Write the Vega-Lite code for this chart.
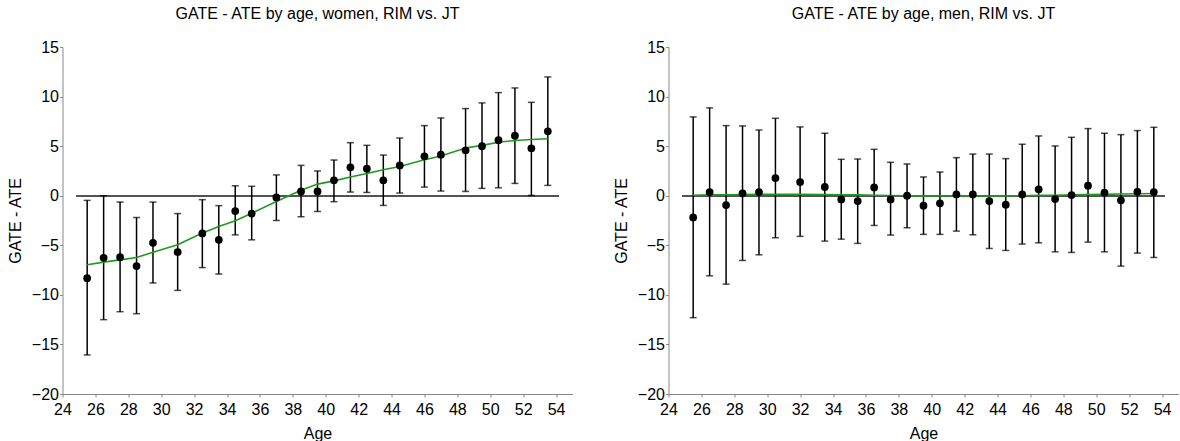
{
  "$schema": "https://vega.github.io/schema/vega-lite/v6.json",
  "padding": {"left": 6.5, "top": 6, "right": 0, "bottom": 0},
  "spacing": 40,
  "datasets": {
    "women": [
      {"age": 25.5, "gate": -8.32, "lo": -16.06, "hi": -0.47, "fit": -6.97},
      {"age": 26.5, "gate": -6.26, "lo": -12.5, "hi": 0.0, "fit": -6.7},
      {"age": 27.5, "gate": -6.2, "lo": -11.7, "hi": -0.64, "fit": -6.47},
      {"age": 28.5, "gate": -7.1, "lo": -11.9, "hi": -2.2, "fit": -6.23},
      {"age": 29.5, "gate": -4.75, "lo": -8.8, "hi": -0.64, "fit": -5.7},
      {"age": 31.0, "gate": -5.7, "lo": -9.55, "hi": -1.8, "fit": -4.95},
      {"age": 32.5, "gate": -3.8, "lo": -7.25, "hi": -0.4, "fit": -3.77},
      {"age": 33.5, "gate": -4.45, "lo": -7.9, "hi": -1.0, "fit": -3.1},
      {"age": 34.5, "gate": -1.55, "lo": -3.95, "hi": 1.0, "fit": -2.53},
      {"age": 35.5, "gate": -1.8, "lo": -4.45, "hi": 0.95, "fit": -1.76},
      {"age": 37.0, "gate": -0.17, "lo": -2.5, "hi": 2.1, "fit": -0.58},
      {"age": 38.5, "gate": 0.43, "lo": -2.12, "hi": 3.06, "fit": 0.55},
      {"age": 39.5, "gate": 0.43, "lo": -1.59, "hi": 2.5, "fit": 1.17},
      {"age": 40.5, "gate": 1.55, "lo": -0.6, "hi": 3.6, "fit": 1.5},
      {"age": 41.5, "gate": 2.86, "lo": 0.37, "hi": 5.35, "fit": 1.88},
      {"age": 42.5, "gate": 2.72, "lo": 0.33, "hi": 5.08, "fit": 2.25},
      {"age": 43.5, "gate": 1.55, "lo": -0.98, "hi": 4.1, "fit": 2.62},
      {"age": 44.5, "gate": 3.06, "lo": 0.27, "hi": 5.82, "fit": 2.95},
      {"age": 46.0, "gate": 3.97, "lo": 0.87, "hi": 7.07, "fit": 3.63},
      {"age": 47.0, "gate": 4.14, "lo": 0.47, "hi": 7.84, "fit": 4.0},
      {"age": 48.5, "gate": 4.58, "lo": 0.43, "hi": 8.79, "fit": 4.81},
      {"age": 49.5, "gate": 5.0, "lo": 0.74, "hi": 9.36, "fit": 5.08},
      {"age": 50.5, "gate": 5.6, "lo": 0.8, "hi": 10.4, "fit": 5.4},
      {"age": 51.5, "gate": 6.06, "lo": 1.24, "hi": 10.87, "fit": 5.57},
      {"age": 52.5, "gate": 4.78, "lo": 0.03, "hi": 9.42, "fit": 5.67},
      {"age": 53.5, "gate": 6.5, "lo": 1.04, "hi": 11.98, "fit": 5.75}
    ],
    "men": [
      {"age": 25.5, "gate": -2.19, "lo": -12.3, "hi": 7.95, "fit": 0.05},
      {"age": 26.5, "gate": 0.37, "lo": -8.08, "hi": 8.86, "fit": 0.08},
      {"age": 27.5, "gate": -0.94, "lo": -8.92, "hi": 7.07, "fit": 0.1},
      {"age": 28.5, "gate": 0.24, "lo": -6.53, "hi": 7.04, "fit": 0.12},
      {"age": 29.5, "gate": 0.37, "lo": -5.96, "hi": 6.63, "fit": 0.14},
      {"age": 30.5, "gate": 1.78, "lo": -4.24, "hi": 7.81, "fit": 0.15},
      {"age": 32.0, "gate": 1.38, "lo": -4.1, "hi": 6.94, "fit": 0.15},
      {"age": 33.5, "gate": 0.88, "lo": -4.58, "hi": 6.3, "fit": 0.13},
      {"age": 34.5, "gate": -0.37, "lo": -4.38, "hi": 3.67, "fit": 0.1},
      {"age": 35.5, "gate": -0.54, "lo": -4.81, "hi": 3.7, "fit": 0.08},
      {"age": 36.5, "gate": 0.84, "lo": -3.0, "hi": 4.68, "fit": 0.05},
      {"age": 37.5, "gate": -0.37, "lo": -3.97, "hi": 3.37, "fit": 0.02},
      {"age": 38.5, "gate": 0.0, "lo": -3.23, "hi": 3.2, "fit": 0.0},
      {"age": 39.5, "gate": -1.01, "lo": -3.9, "hi": 1.89, "fit": -0.02},
      {"age": 40.5, "gate": -0.77, "lo": -3.9, "hi": 2.39, "fit": -0.03},
      {"age": 41.5, "gate": 0.13, "lo": -3.57, "hi": 3.84, "fit": -0.03},
      {"age": 42.5, "gate": 0.13, "lo": -3.94, "hi": 4.2, "fit": -0.03},
      {"age": 43.5, "gate": -0.54, "lo": -5.32, "hi": 4.2, "fit": -0.03},
      {"age": 44.5, "gate": -0.91, "lo": -5.52, "hi": 3.74, "fit": -0.02},
      {"age": 45.5, "gate": 0.13, "lo": -4.88, "hi": 5.19, "fit": 0.0},
      {"age": 46.5, "gate": 0.64, "lo": -4.75, "hi": 6.03, "fit": 0.03},
      {"age": 47.5, "gate": -0.34, "lo": -5.66, "hi": 5.02, "fit": 0.05},
      {"age": 48.5, "gate": 0.07, "lo": -5.72, "hi": 5.89, "fit": 0.08},
      {"age": 49.5, "gate": 1.01, "lo": -4.68, "hi": 6.77, "fit": 0.11},
      {"age": 50.5, "gate": 0.3, "lo": -5.66, "hi": 6.3, "fit": 0.14},
      {"age": 51.5, "gate": -0.47, "lo": -7.1, "hi": 6.16, "fit": 0.17},
      {"age": 52.5, "gate": 0.4, "lo": -5.79, "hi": 6.57, "fit": 0.2},
      {"age": 53.5, "gate": 0.37, "lo": -6.23, "hi": 6.9, "fit": 0.23}
    ]
  },
  "hconcat": [
    {
      "width": 510,
      "height": 347,
      "title": "GATE - ATE by age, women, RIM vs. JT",
      "data": {"name": "women"},
      "encoding": {
        "x": {
          "field": "age",
          "type": "quantitative",
          "title": "Age",
          "scale": {"domain": [24, 55], "nice": false, "zero": false},
          "axis": {"values": [24, 26, 28, 30, 32, 34, 36, 38, 40, 42, 44, 46, 48, 50, 52, 54]}
        }
      },
      "layer": [
        {
          "mark": {"type": "rule", "color": "#555555", "strokeWidth": 0.9},
          "encoding": {
            "x": {"datum": 24.85, "type": "quantitative"},
            "x2": {"datum": 54.15},
            "y": {"datum": 0, "type": "quantitative"}
          }
        },
        {
          "mark": {"type": "errorbar", "ticks": {"size": 7, "color": "black", "thickness": 1.5}, "color": "black", "thickness": 1.5},
          "encoding": {
            "y": {
              "field": "lo",
              "type": "quantitative",
              "title": "GATE - ATE",
              "scale": {"domain": [-20, 15], "nice": false},
              "axis": {"values": [-20, -15, -10, -5, 0, 5, 10, 15]}
            },
            "y2": {"field": "hi"}
          }
        },
        {
          "mark": {"type": "line", "color": "#1e9a1e", "strokeWidth": 1.6},
          "encoding": {"y": {"field": "fit", "type": "quantitative"}}
        },
        {
          "mark": {"type": "circle", "color": "black", "opacity": 1, "size": 60},
          "encoding": {"y": {"field": "gate", "type": "quantitative"}}
        }
      ]
    },
    {
      "width": 510,
      "height": 347,
      "title": "GATE - ATE by age, men, RIM vs. JT",
      "data": {"name": "men"},
      "encoding": {
        "x": {
          "field": "age",
          "type": "quantitative",
          "title": "Age",
          "scale": {"domain": [24, 55], "nice": false, "zero": false},
          "axis": {"values": [24, 26, 28, 30, 32, 34, 36, 38, 40, 42, 44, 46, 48, 50, 52, 54]}
        }
      },
      "layer": [
        {
          "mark": {"type": "rule", "color": "#555555", "strokeWidth": 0.9},
          "encoding": {
            "x": {"datum": 24.85, "type": "quantitative"},
            "x2": {"datum": 54.15},
            "y": {"datum": 0, "type": "quantitative"}
          }
        },
        {
          "mark": {"type": "errorbar", "ticks": {"size": 7, "color": "black", "thickness": 1.5}, "color": "black", "thickness": 1.5},
          "encoding": {
            "y": {
              "field": "lo",
              "type": "quantitative",
              "title": "GATE - ATE",
              "scale": {"domain": [-20, 15], "nice": false},
              "axis": {"values": [-20, -15, -10, -5, 0, 5, 10, 15]}
            },
            "y2": {"field": "hi"}
          }
        },
        {
          "mark": {"type": "line", "color": "#1e9a1e", "strokeWidth": 1.6},
          "encoding": {"y": {"field": "fit", "type": "quantitative"}}
        },
        {
          "mark": {"type": "circle", "color": "black", "opacity": 1, "size": 60},
          "encoding": {"y": {"field": "gate", "type": "quantitative"}}
        }
      ]
    }
  ],
  "config": {
    "font": "Liberation Sans",
    "view": {"stroke": null},
    "title": {"fontSize": 16, "fontWeight": "normal", "color": "black", "offset": 17},
    "axis": {
      "grid": false,
      "domainColor": "#888888",
      "tickColor": "#888888",
      "tickSize": 3,
      "labelFontSize": 16,
      "labelColor": "black",
      "labelPadding": 1,
      "titleFontSize": 16,
      "titleFontWeight": "normal",
      "titleColor": "black"
    },
    "axisY": {"titlePadding": 8, "labelFlush": false},
    "axisX": {"titlePadding": 8, "labelPadding": 4, "labelFlush": false}
  }
}
